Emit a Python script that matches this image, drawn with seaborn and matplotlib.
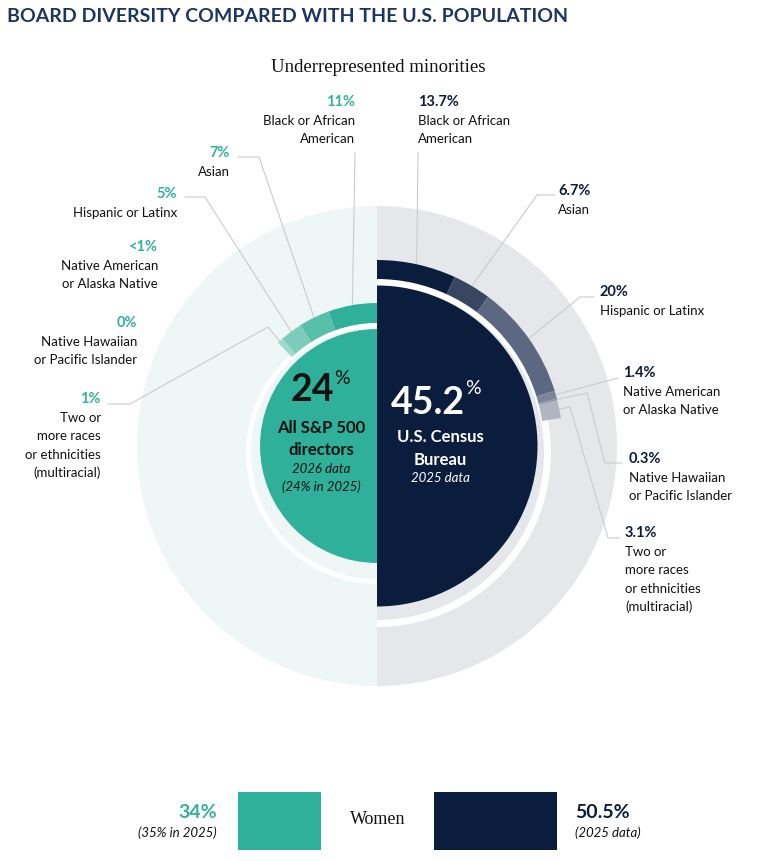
"""
Board diversity vs U.S. population: two half-donuts plus a women bar strip.
"""

import numpy as np
import matplotlib
matplotlib.use("Agg")
import matplotlib.pyplot as plt
from matplotlib.patches import Wedge
import seaborn as sns

# ---- data -------------------------------------------------------------
groups = ["Black or African\nAmerican", "Asian", "Hispanic or Latinx",
          "Native American\nor Alaska Native",
          "Native Hawaiian\nor Pacific Islander",
          "Two or\nmore races\nor ethnicities\n(multiracial)"]
sp500_pct = [11, 7, 5, 0.3, 0, 1]
sp500_text = ["11%", "7%", "5%", "<1%", "0%", "1%"]
census_pct = [13.7, 6.7, 20, 1.4, 0.3, 3.1]
census_text = ["13.7%", "6.7%", "20%", "1.4%", "0.3%", "3.1%"]
sp500_total = 24
census_total = 45.2
women_sp500 = 34
women_census = 50.5

# ---- styles -----------------------------------------------------------
TEAL = "#2eb09a"
NAVY = "#0b1d3d"
TEAL_BG = "#eef7f5"
GRAY_BG = "#e6e7eb"
TEAL_SEG = ["#2eb09a", "#58bfa9", "#7ccbbb", "#8ad0c2", "#8ad0c2", "#9ed8cc"]
NAVY_SEG = ["#0b1d3d", "#38465f", "#5c6781", "#7d8599", "#8d94a6", "#b1b5c2"]
LINE = "#c9cbcf"

sns.set_theme(style="white")
plt.rcParams["font.family"] = ["Lato", "DejaVu Sans"]

fig = plt.figure(figsize=(7.67, 8.61), dpi=100)
ax = fig.add_axes([0, 0, 1, 1])
ax.set_xlim(0, 767)
ax.set_ylim(861, 0)
ax.axis("off")

CX, CY = 377, 446        # centre of the donuts
RING_CY = 453            # white rings sit a touch lower
R_BG = 240
K = 160.5 / np.sqrt(census_total)   # disk radius ~ sqrt(value)


def wedge(cy, r, a1, a2, width=None, z=2, **kw):
    # a1..a2 are visual angles (deg, counter-clockwise); y axis is inverted
    ax.add_patch(Wedge((CX, cy), r, -a2, -a1, width=width, lw=0,
                       zorder=z, **kw))


# background halves
wedge(CY, R_BG, 90, 270, z=1, color=TEAL_BG)
wedge(CY, R_BG, -90, 90, z=1, color=GRAY_BG)

# white separator rings
wedge(RING_CY, 131, 90, 270, width=5, color="white")
wedge(RING_CY, 174, -90, 90, width=7, color="white")

# centre half-disks
wedge(CY, K * np.sqrt(sp500_total), 90, 270, color=TEAL)
wedge(CY, K * np.sqrt(census_total), -90, 90, color=NAVY)

# minority arcs (180 deg = 100%)
LEFT_R, RIGHT_R = 143, 186
left_mid, right_mid = [], []
start = 90
for v, c in zip(sp500_pct, TEAL_SEG):
    end = start + v * 1.8
    if v > 0:
        wedge(CY, LEFT_R, start, end, width=20, z=3, color=c)
    left_mid.append((start + end) / 2)
    start = end
start = 90
for v, c in zip(census_pct, NAVY_SEG):
    end = start - v * 1.8
    wedge(CY, RIGHT_R, end, start, width=19, z=3, color=c)
    right_mid.append((start + end) / 2)
    start = end

# label layout: (x, y of the percent text, leader waypoints from label)
left_layout = [
    (355, 102, [(355, 152)]),
    (230, 153, [(238, 157), (259, 157)]),
    (177, 194, [(185, 197), (205, 197)]),
    (158, 247, None),
    (137, 323, None),
    (101, 399, [(108, 404), (130, 404), (268, 327)]),
]
right_layout = [
    (418, 102, [(418, 152)]),
    (558, 191, [(555, 195), (537, 195)]),
    (600, 292, [(594, 297), (580, 297)]),
    (623, 373, [(618, 378)]),
    (629, 459, [(622, 463), (605, 463), (587, 393)]),
    (625, 533, [(620, 538), (608, 538), (570, 407)]),
]


def put_label(x, y, pct, name, ha, color):
    ax.text(x, y, pct, ha=ha, va="center", fontsize=10.5,
            fontweight="bold", color=color)
    for i, line in enumerate(name.split("\n")):
        ax.text(x, y + 19 + 18.3 * i, line, ha=ha, va="center",
                fontsize=9.5, color="#111111")


def leader(pts, ang, r):
    end = (CX + r * np.cos(np.radians(ang)), CY - r * np.sin(np.radians(ang)))
    xs, ys = zip(*(pts + [end]))
    ax.plot(xs, ys, color=LINE, lw=0.8, zorder=1.5)


for (x, y, pts), pct, name, ang in zip(left_layout, sp500_text, groups, left_mid):
    put_label(x, y, pct, name, "right", "#35b09b")
    if pts:
        leader(pts, ang, LEFT_R)

for (x, y, pts), pct, name, ang in zip(right_layout, census_text, groups, right_mid):
    put_label(x, y, pct, name, "left", NAVY)
    if pts:
        leader(pts, ang, RIGHT_R)

# centre texts
ax.text(312, 390, f"{sp500_total}", ha="center", va="center", fontsize=27,
        fontweight="bold", color="#111111", zorder=4)
ax.text(342, 378, "%", ha="center", va="center", fontsize=14,
        color="#111111", zorder=4)
for txt, y, kw in [("All S&P 500", 428, dict(fontsize=12, fontweight="bold")),
                   ("directors", 450, dict(fontsize=12, fontweight="bold")),
                   ("2026 data", 469, dict(fontsize=9.5, style="italic")),
                   ("(24% in 2025)", 487, dict(fontsize=9.5, style="italic"))]:
    ax.text(321, y, txt, ha="center", va="center", color="#111111",
            zorder=4, **kw)

ax.text(428, 403, f"{census_total}", ha="center", va="center", fontsize=27,
        fontweight="bold", color="white", zorder=4)
ax.text(473, 388, "%", ha="center", va="center", fontsize=14,
        color="white", zorder=4)
for txt, y, kw in [("U.S. Census", 437, dict(fontsize=12, fontweight="bold")),
                   ("Bureau", 460, dict(fontsize=12, fontweight="bold")),
                   ("2025 data", 478, dict(fontsize=9.5, style="italic"))]:
    ax.text(440, y, txt, ha="center", va="center", color="white",
            zorder=4, **kw)

# titles
ax.text(7, 16, "BOARD DIVERSITY COMPARED WITH THE U.S. POPULATION",
        ha="left", va="center", fontsize=14, fontweight="bold",
        color="#1c3661")
ax.text(378, 68, "Underrepresented minorities", ha="center", va="center",
        fontsize=13.5, family="Liberation Serif", color="#111111")

# women strip
PX = 2.44
ax.barh(821, -women_sp500 * PX, left=321, height=58, color=TEAL, lw=0)
ax.barh(821, women_census * PX, left=434, height=58, color=NAVY, lw=0)
ax.text(378, 820, "Women", ha="center", va="center", fontsize=13,
        family="Liberation Serif", color="#111111")
ax.text(217, 812, f"{women_sp500}%", ha="right", va="center", fontsize=14,
        fontweight="bold", color="#35b09b")
ax.text(217, 833, "(35% in 2025)", ha="right", va="center", fontsize=9.5,
        style="italic", color="#111111")
ax.text(575, 812, f"{women_census}%", ha="left", va="center", fontsize=14,
        fontweight="bold", color=NAVY)
ax.text(575, 833, "(2025 data)", ha="left", va="center", fontsize=9.5,
        style="italic", color="#111111")

fig.savefig("out.png", dpi=100, facecolor="white")
